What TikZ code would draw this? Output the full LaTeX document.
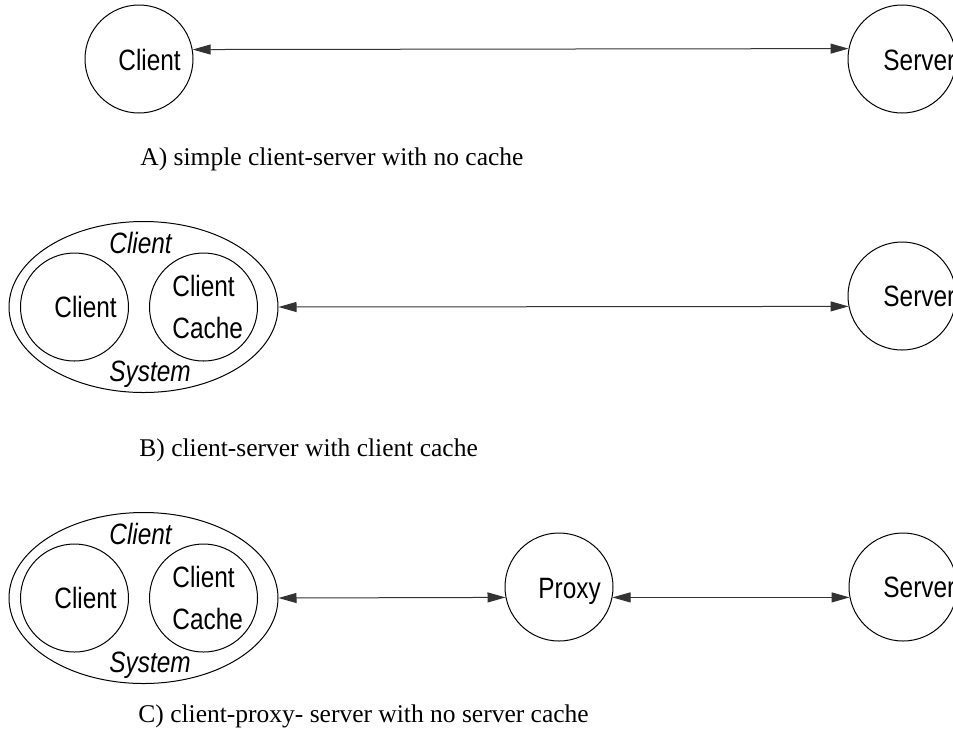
\documentclass[tikz,border=0pt]{standalone}
\usepackage{fontspec}
\newfontfamily\lblfont[FakeStretch=0.83]{Liberation Sans}
\newfontfamily\capfont{Liberation Serif}
\usetikzlibrary{arrows.meta, shapes.geometric}

\begin{document}
\begin{tikzpicture}[x=0.5pt, y=-0.5pt,
  host/.style={draw, circle, line width=0.5pt, minimum size=54pt, inner sep=0pt},
  sysbox/.style={draw, ellipse, line width=0.5pt, minimum width=134.5pt, minimum height=85.5pt, inner sep=0pt},
  lbl/.style={anchor=base west, inner sep=0pt, font=\lblfont\fontsize{14.7}{21}\selectfont},
  syslbl/.style={lbl, font=\lblfont\itshape\fontsize{14.7}{21}\selectfont},
  caption/.style={anchor=base west, inner sep=0pt, font=\capfont\fontsize{12.75}{15}\selectfont},
  link/.style={{Triangle[length=9pt,width=5pt]}-{Triangle[length=9pt,width=5pt]}, line width=0.5pt, draw=black!80}]
\useasboundingbox (0,0) rectangle (953,746);

% A) no cache
\node[host] (clA) at (139,59) {};
\node[host] (svA) at (902,59) {};
\node[lbl] (clAtxt) at (118,70) {Client};
\node[lbl] (svAtxt) at (883,70) {Server};
\draw[link] (clA.10.7) -- (svA.169.3);
\node[caption] (capA) at (140,165) {A) simple client-server with no cache};

% B) client cache
\node[sysbox] (sysB) at (143.5,307) {};
\node[host] (clB) at (74.5,307) {};
\node[host] (ccB) at (203.5,307) {};
\node[host] (svB) at (902,296) {};
\node[syslbl] (sysBtop) at (109,253) {Client};
\node[syslbl] (sysBbot) at (109,381) {System};
\node[lbl] (clBtxt) at (54,317) {Client};
\node[lbl] (ccBtop) at (172,296) {Client};
\node[lbl] (ccBbot) at (172,338) {Cache};
\node[lbl] (svBtxt) at (883,306) {Server};
\draw[link] (sysB.east) -- (svB.191.7);
\node[caption] (capB) at (139,456) {B) client-server with client cache};

% C) proxy
\node[sysbox] (sysC) at (143.5,598) {};
\node[host] (clC) at (74.5,598) {};
\node[host] (ccC) at (203.5,598) {};
\node[host] (pxC) at (559,587) {};
\node[host] (svC) at (903,587) {};
\node[syslbl] (sysCtop) at (109,544) {Client};
\node[syslbl] (sysCbot) at (109,672) {System};
\node[lbl] (clCtxt) at (54,608) {Client};
\node[lbl] (ccCtop) at (172,587) {Client};
\node[lbl] (ccCbot) at (172,629) {Cache};
\node[lbl] (pxCtxt) at (538,598) {Proxy};
\node[lbl] (svCtxt) at (883,597) {Server};
\draw[link] (sysC.east) -- (pxC.191.7);
\draw[link] (pxC.-11.7) -- (svC.191.7);
\node[caption] (capC) at (138,722) {C) client-proxy- server with no server cache};
\end{tikzpicture}
\end{document}
